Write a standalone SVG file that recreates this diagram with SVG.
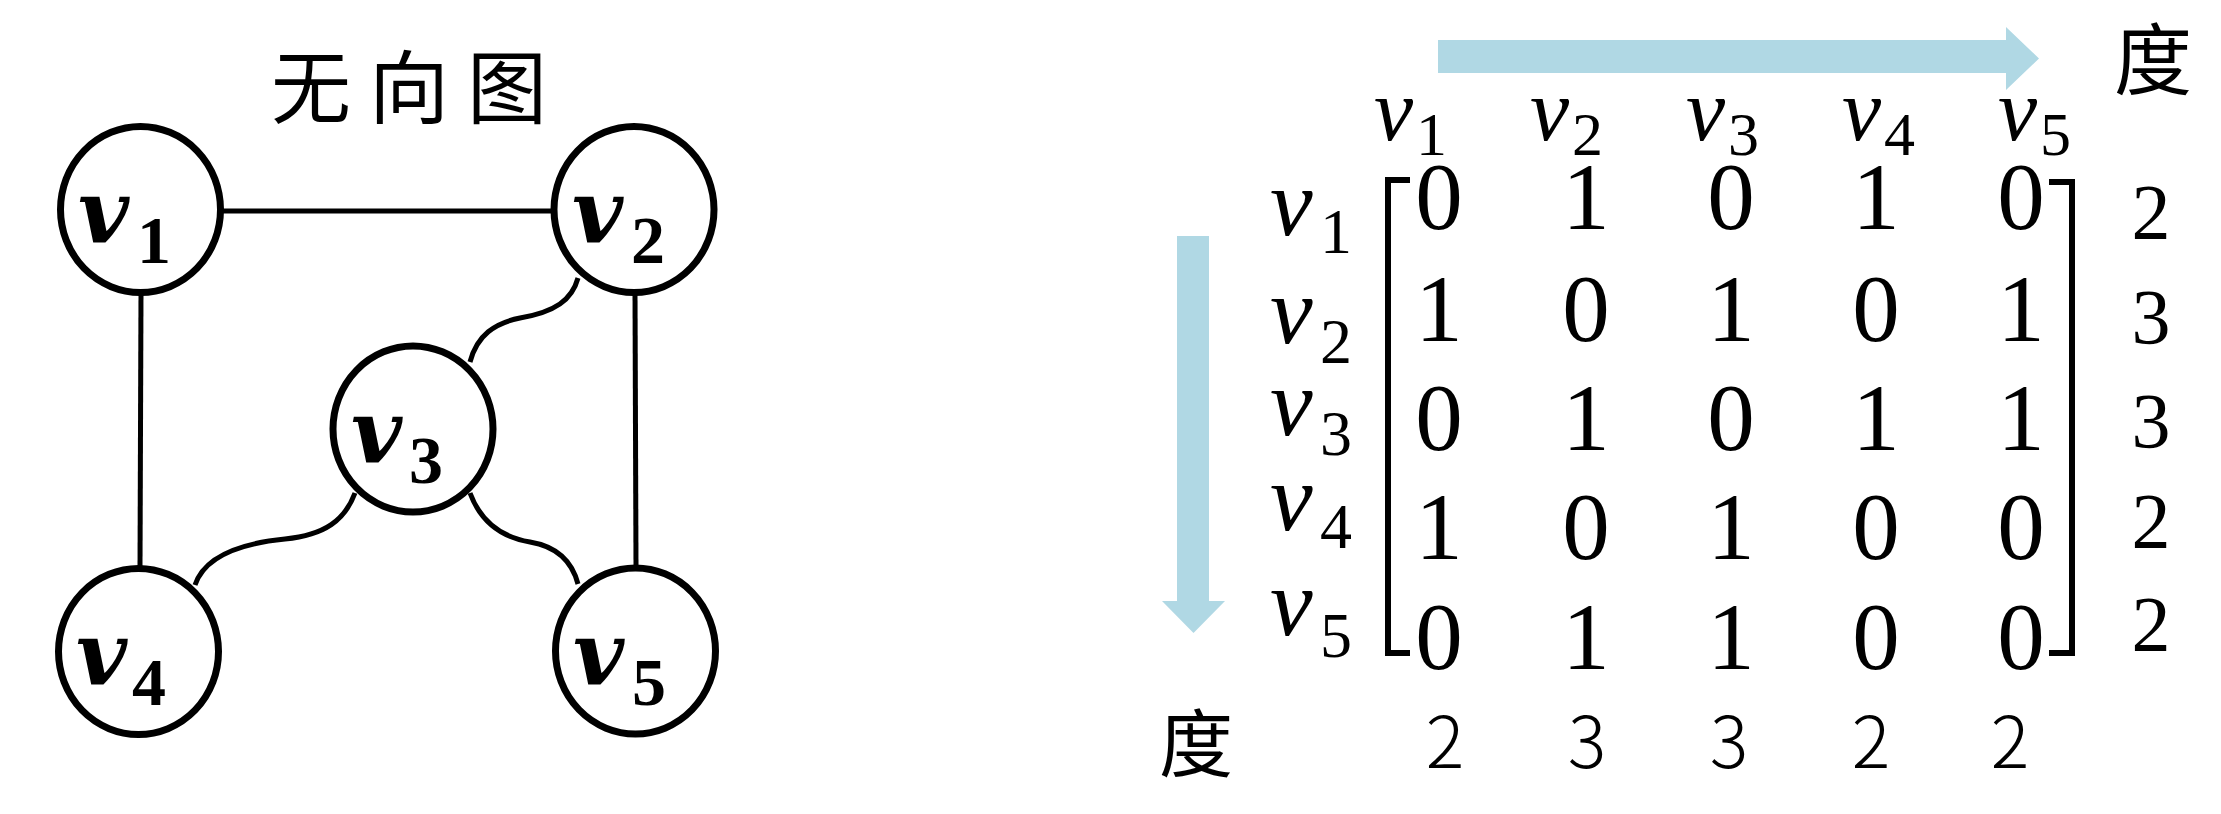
<svg xmlns="http://www.w3.org/2000/svg" width="2221" height="814" viewBox="0 0 2221 814">
<style>
.node{fill:#fff;stroke:#000;stroke-width:7}
.edge{fill:none;stroke:#000;stroke-width:5}
.nv{font-family:"DejaVu Serif","Liberation Serif",serif;font-weight:bold;font-style:italic;font-size:88px}
.nd{font-family:"Liberation Serif",serif;font-weight:bold;font-size:68px}
.lv{font-family:"Liberation Serif",serif;font-style:italic;font-size:96px}
.ld{font-family:"Liberation Serif",serif;font-style:normal;font-size:64px}
.hv{font-family:"Liberation Serif",serif;font-style:italic;font-size:88px}
.hd{font-family:"Liberation Serif",serif;font-style:normal;font-size:62px}
text{fill:#000}
.m{font-family:"Liberation Serif",serif;font-size:95px;text-anchor:middle}
.deg{font-family:"Liberation Serif",serif;font-size:78px;text-anchor:middle}
.bdeg{font-family:"Noto Sans CJK SC","Noto Sans",sans-serif;font-weight:300;font-size:72px;text-anchor:middle}
.cjk{font-family:"Noto Sans CJK SC",sans-serif}
.arrow{fill:#B0D8E4}
.br{fill:none;stroke:#000;stroke-width:6}
</style>
<text class="cjk" x="271" y="117" font-size="80" letter-spacing="18">无向图</text>
<g id="connectors">
<line class="edge" x1="220" y1="211" x2="554" y2="211"/>
<line class="edge" x1="141" y1="292" x2="140" y2="569"/>
<line class="edge" x1="635" y1="292" x2="636" y2="568"/>
<path class="edge" d="M578,278 C572,300 555,312 520,318 C495,323 477,335 470,362"/>
<path class="edge" d="M355,493 C345,520 325,535 285,539 C245,543 205,555 195,585"/>
<path class="edge" d="M470,493 C480,520 500,537 530,542 C560,547 573,565 578,584"/>
</g>
<g id="v1"><ellipse class="node" cx="140.5" cy="209.5" rx="80" ry="83"/><text x="78" y="243"><tspan class="nv">v</tspan><tspan class="nd" x="137" y="263">1</tspan></text></g>
<g id="v2"><ellipse class="node" cx="634" cy="209.5" rx="80" ry="83"/><text x="572" y="243"><tspan class="nv">v</tspan><tspan class="nd" x="631" y="263">2</tspan></text></g>
<g id="v3"><ellipse class="node" cx="413" cy="429" rx="80" ry="83"/><text x="351" y="463"><tspan class="nv">v</tspan><tspan class="nd" x="409" y="483">3</tspan></text></g>
<g id="v4"><ellipse class="node" cx="138.5" cy="651.5" rx="80" ry="83"/><text x="76" y="685"><tspan class="nv">v</tspan><tspan class="nd" x="132" y="705">4</tspan></text></g>
<g id="v5"><ellipse class="node" cx="635.5" cy="651" rx="80" ry="83"/><text x="573" y="685"><tspan class="nv">v</tspan><tspan class="nd" x="632" y="705">5</tspan></text></g>
<g id="matrix">
<polygon class="arrow" points="1438,40 2006,40 2006,27 2039,58.5 2006,90 2006,73 1438,73"/>
<polygon class="arrow" points="1177,236 1209,236 1209,601 1225,601 1193.5,633 1162,601 1177,601"/>
<text class="cjk" x="2114" y="89" font-size="78">度</text>
<text class="cjk" x="1159" y="771" font-size="74">度</text>
<text x="1374" y="140"><tspan class="hv">v</tspan><tspan class="hd" x="1416" y="155">1</tspan></text>
<text x="1530" y="140"><tspan class="hv">v</tspan><tspan class="hd" x="1572" y="155">2</tspan></text>
<text x="1686" y="140"><tspan class="hv">v</tspan><tspan class="hd" x="1728" y="155">3</tspan></text>
<text x="1842" y="140"><tspan class="hv">v</tspan><tspan class="hd" x="1884" y="155">4</tspan></text>
<text x="1998" y="140"><tspan class="hv">v</tspan><tspan class="hd" x="2040" y="155">5</tspan></text>
<text x="1270" y="235"><tspan class="lv">v</tspan><tspan class="ld" x="1320" y="253">1</tspan></text>
<text x="1270" y="343"><tspan class="lv">v</tspan><tspan class="ld" x="1320" y="363">2</tspan></text>
<text x="1270" y="435"><tspan class="lv">v</tspan><tspan class="ld" x="1320" y="455">3</tspan></text>
<text x="1270" y="530"><tspan class="lv">v</tspan><tspan class="ld" x="1320" y="548">4</tspan></text>
<text x="1270" y="635"><tspan class="lv">v</tspan><tspan class="ld" x="1320" y="657">5</tspan></text>
<path class="br" d="M1410,180 H1388 V653 H1410"/>
<path class="br" d="M2049,182 H2072 V653 H2049"/>
<text class="m" y="229"><tspan x="1439">0</tspan><tspan x="1586">1</tspan><tspan x="1731">0</tspan><tspan x="1876">1</tspan><tspan x="2021">0</tspan></text>
<text class="m" y="341"><tspan x="1439">1</tspan><tspan x="1586">0</tspan><tspan x="1731">1</tspan><tspan x="1876">0</tspan><tspan x="2021">1</tspan></text>
<text class="m" y="450"><tspan x="1439">0</tspan><tspan x="1586">1</tspan><tspan x="1731">0</tspan><tspan x="1876">1</tspan><tspan x="2021">1</tspan></text>
<text class="m" y="559"><tspan x="1439">1</tspan><tspan x="1586">0</tspan><tspan x="1731">1</tspan><tspan x="1876">0</tspan><tspan x="2021">0</tspan></text>
<text class="m" y="669"><tspan x="1439">0</tspan><tspan x="1586">1</tspan><tspan x="1731">1</tspan><tspan x="1876">0</tspan><tspan x="2021">0</tspan></text>
<text class="deg" x="2151" y="238">2</text>
<text class="deg" x="2151" y="343">3</text>
<text class="deg" x="2151" y="447">3</text>
<text class="deg" x="2151" y="547">2</text>
<text class="deg" x="2151" y="650">2</text>
<text class="bdeg" y="768"><tspan x="1445">2</tspan><tspan x="1587">3</tspan><tspan x="1729">3</tspan><tspan x="1871">2</tspan><tspan x="2010">2</tspan></text>
</g>
</svg>
